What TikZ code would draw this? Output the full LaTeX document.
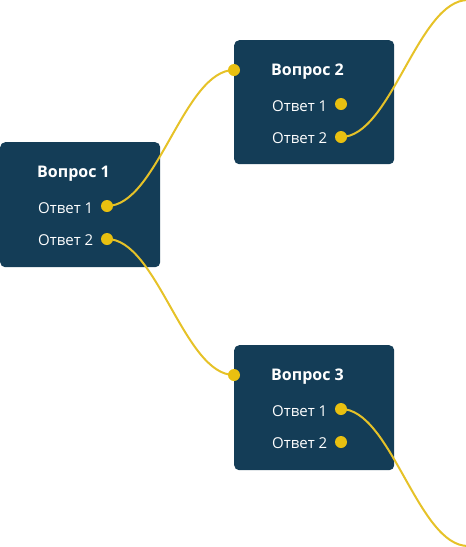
\documentclass[tikz,border=0pt]{standalone}
\usepackage{fontspec}
\setmainfont{Open Sans}
\definecolor{boxblue}{RGB}{20,61,87}
\definecolor{portyellow}{RGB}{233,192,16}
\definecolor{lineyellow}{RGB}{230,194,40}
\pgfdeclarelayer{back}
\pgfdeclarelayer{mid}
\pgfsetlayers{back,mid,main}
\begin{document}
\begin{tikzpicture}[x=1pt,y=-1pt,
  qbox/.style={fill=boxblue, rounded corners=5pt, minimum width=160pt, minimum height=125pt, anchor=north west, inner sep=0pt, draw=none},
  qtitle/.style={text=white, font=\bfseries\fontsize{16}{19}\selectfont, anchor=base west, inner sep=0pt},
  qans/.style={text=white, font=\fontsize{15}{18}\selectfont, anchor=base west, inner sep=0pt},
  port/.style={circle, fill=portyellow, minimum size=12pt, inner sep=0pt, draw=none},
  wire/.style={draw=lineyellow, line width=2pt}]
\useasboundingbox (0,0) rectangle (466,547);
\begin{pgfonlayer}{back}
\node[qbox] (b1) at (0,142) {};
\node[qbox, minimum height=124pt] (b2) at (234,40) {};
\node[qbox] (b3) at (234,345) {};
\end{pgfonlayer}
% texts
\node[qtitle] (t1) at ([shift={(37,35)}]b1.north west) {Вопрос 1};
\node[qans] (t1a) at ([shift={(38,71)}]b1.north west) {Ответ 1};
\node[qans] (t1b) at ([shift={(38,103)}]b1.north west) {Ответ 2};
\node[qtitle] (t2) at ([shift={(37,35)}]b2.north west) {Вопрос 2};
\node[qans] (t2a) at ([shift={(38,71)}]b2.north west) {Ответ 1};
\node[qans] (t2b) at ([shift={(38,103)}]b2.north west) {Ответ 2};
\node[qtitle] (t3) at ([shift={(37,35)}]b3.north west) {Вопрос 3};
\node[qans] (t3a) at ([shift={(38,71)}]b3.north west) {Ответ 1};
\node[qans] (t3b) at ([shift={(38,103)}]b3.north west) {Ответ 2};
% ports
\node[port] (p1a) at ([shift={(107,64)}]b1.north west) {};
\node[port] (p1b) at ([shift={(107,97)}]b1.north west) {};
\node[port] (p2in) at ([shift={(0,30)}]b2.north west) {};
\node[port] (p2a) at ([shift={(107,64)}]b2.north west) {};
\node[port] (p2b) at ([shift={(107,97)}]b2.north west) {};
\node[port] (p3in) at ([shift={(0,30)}]b3.north west) {};
\node[port] (p3a) at ([shift={(107,64)}]b3.north west) {};
\node[port] (p3b) at ([shift={(107,97)}]b3.north west) {};
\coordinate (n4) at (468,0);
\coordinate (n5) at (468,546);
\begin{pgfonlayer}{mid}
\clip (0,0) rectangle (466,547);
\draw[wire] (p1a.center) .. controls +(50,0) and +(-50,0) .. (p2in.center);
\draw[wire] (p1b.center) .. controls +(50,0) and +(-50,0) .. (p3in.center);
\draw[wire] (p2b.center) .. controls +(50,0) and +(-50,0) .. (n4);
\draw[wire] (p3a.center) .. controls +(50,0) and +(-50,0) .. (n5);
\end{pgfonlayer}
\end{tikzpicture}
\end{document}
